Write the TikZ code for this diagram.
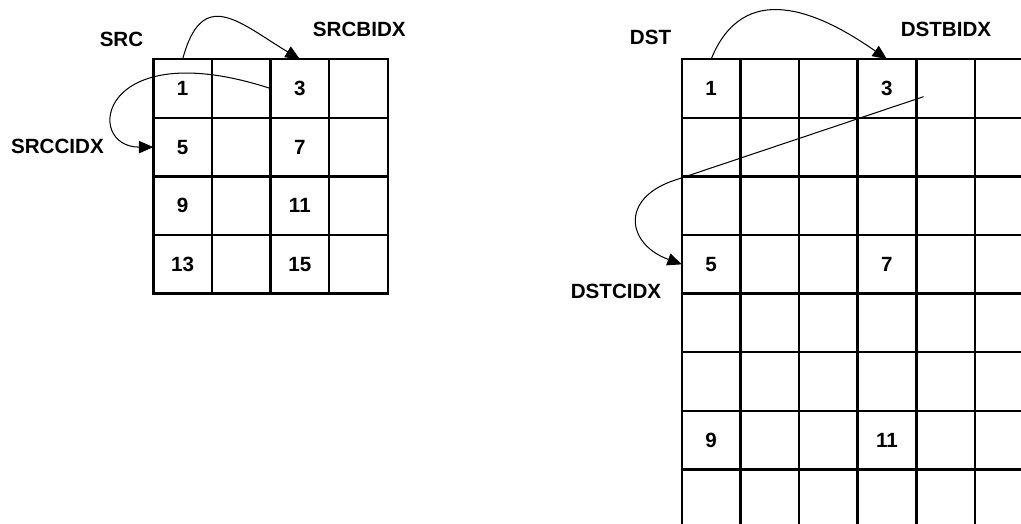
\documentclass[tikz,border=0pt]{standalone}
\usepackage{fontspec}
\setmainfont{Liberation Sans}
\usetikzlibrary{arrows.meta}
\begin{document}
\begin{tikzpicture}
	[cell/.style={rectangle,draw,line width=1.2pt,minimum size=1cm,inner sep=0pt,outer sep=0pt},
	lbl/.style={font=\bfseries,inner sep=0pt},
	link/.style={->,line width=0.5pt},
	>={Triangle[length=7pt,width=6pt]}]
	\useasboundingbox(0,0)rectangle(17.42,-8.925);
	\clip(0,0)rectangle(17.42,-8.925);
	% source array
	\foreach \r in {0,...,3}
		\foreach \c in {0,...,3}
			\node[cell,name=s-\r-\c]at(3.116+\c,-1.51-\r){};
	% destination array
	\foreach \r in {0,...,7}
		\foreach \c in {0,...,5}
			\node[cell,name=d-\r-\c]at(12.133+\c,-1.51-\r){};
	\node[lbl,name=s1]at(s-0-0){1};
	\node[lbl,name=s3]at(s-0-2){3};
	\node[lbl,name=s5]at(s-1-0){5};
	\node[lbl,name=s7]at(s-1-2){7};
	\node[lbl,name=s9]at(s-2-0){9};
	\node[lbl,name=s11]at(s-2-2){11};
	\node[lbl,name=s13]at(s-3-0){13};
	\node[lbl,name=s15]at(s-3-2){15};
	\node[lbl,name=d1]at(d-0-0){1};
	\node[lbl,name=d3]at(d-0-3){3};
	\node[lbl,name=d5]at(d-3-0){5};
	\node[lbl,name=d7]at(d-3-3){7};
	\node[lbl,name=d9]at(d-6-0){9};
	\node[lbl,name=d11]at(d-6-3){11};
	\node[lbl,name=src]at(2.073,-0.670){SRC};
	\node[lbl,name=srcb]at(6.13,-0.499){SRCBIDX};
	\node[lbl,name=srcc]at(0.98,-2.49){SRCCIDX};
	\node[lbl,name=dst]at(11.10,-0.635){DST};
	\node[lbl,name=dstb]at(16.14,-0.499){DSTBIDX};
	\node[lbl,name=dstc]at(10.51,-4.97){DSTCIDX};
	\coordinate(dc)at(15.756,-1.650);
	\coordinate(db)at(11.519,-3.072);
	\draw[link](s-0-0.north)to[out=75,in=149,out distance=1.3cm,in distance=1.2cm](s-0-2.north);
	\draw[link](s-0-2.west)to[out=162,in=180,out distance=3.1cm,in distance=1.2cm](s-1-0.west);
	\draw[link](d-0-0.north)to[out=68,in=145,out distance=1.46cm,in distance=1.47cm](d-0-3.north);
	\draw[link](dc)--(db)to[out=198,in=160,out distance=1cm,in distance=1cm](d-3-0.west);
\end{tikzpicture}
\end{document}
